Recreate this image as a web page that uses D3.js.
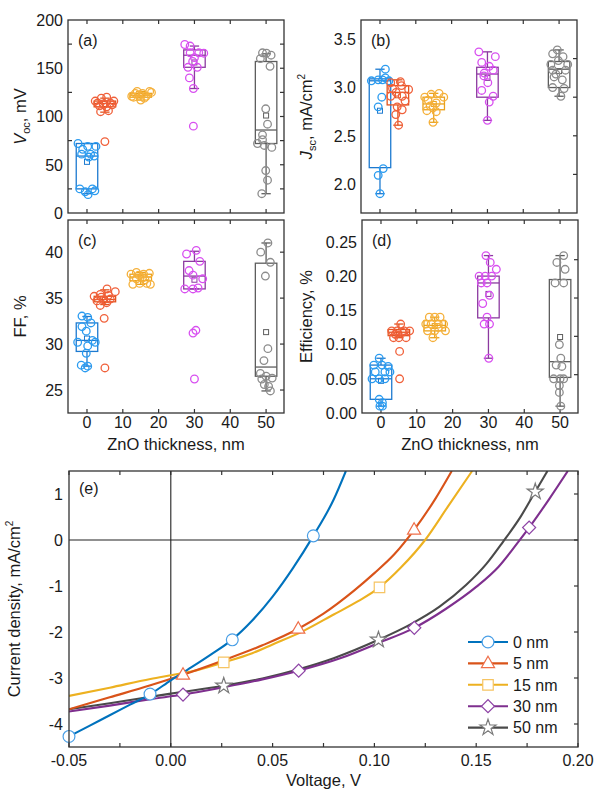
<!DOCTYPE html>
<html>
<head>
<meta charset="utf-8">
<script src="https://cdn.jsdelivr.net/npm/d3@7"></script>
<style>
body { margin: 0; background: #fff; }
text { font-family: "Liberation Sans", Arial, sans-serif; fill: #1a1a1a; }
</style>
</head>
<body>
<svg id="chart" width="595" height="789"></svg>
<script>
// ZnO thickness groups
const thickness = [0, 5, 15, 30, 50];

// box stats per group: [whiskerLow, q1, median, q3, whiskerHigh, mean]
const vocBox = [[20, 25, 59, 72, 72, 53], [104.5, 110, 113.5, 116, 119, 113], [117, 120, 122, 124, 126, 122], [129, 151, 163.5, 169, 173, 156], [20, 72, 86, 157, 165, 101]];
const jscBox = [[1.90, 2.17, 3.07, 3.09, 3.19, 2.76], [2.61, 2.82, 2.95, 3.02, 3.08, 2.92], [2.64, 2.77, 2.83, 2.90, 2.94, 2.83], [2.66, 2.90, 3.14, 3.21, 3.37, 3.10], [2.91, 3.00, 3.19, 3.27, 3.39, 3.17]];
const ffBox = [[27.6, 29.2, 30.4, 32.3, 33.0, 30.6], [34.3, 34.6, 34.85, 35.2, 35.9, 34.8], [36.5, 36.9, 37.3, 37.6, 37.8, 37.2], [36.0, 36.0, 37.4, 39.0, 40.1, 37.0], [24.9, 26.5, 27.5, 38.8, 41.0, 31.3]];
const effBox = [[0.01, 0.02, 0.05, 0.07, 0.08, 0.047], [0.11, 0.113, 0.118, 0.122, 0.13, 0.115], [0.11, 0.12, 0.128, 0.135, 0.14, 0.127], [0.08, 0.139, 0.19, 0.20, 0.23, 0.174], [0.01, 0.052, 0.075, 0.195, 0.23, 0.111]];

// individual devices: [thickness position, value]
const vocPts = [
  [[-2.5,72],[0.2,69],[2.5,69],[-1.2,66],[-1.5,61],[1,61],[0.5,58],[2,59],[-2,25],[1.5,25],[-0.5,22],[0.3,19],[2.2,23]],
  [[2.3,116],[4,119],[5.5,120],[7.5,116],[3.5,111],[5.5,110],[7,112],[3.8,105],[6,106],[4.5,113],[5,74],[6.5,114],[3,114]],
  [[12.5,121],[14,126],[15.5,124],[17.5,126],[13,120],[15,117],[16,119],[14.5,122],[13.5,124],[16.5,121],[18,125]],
  [[27.3,174.6],[28.8,173],[31.2,166],[32.6,165.6],[28.8,166],[30,161],[29.5,157],[28.2,151],[30.8,151],[28.6,140],[29.7,129],[29.7,90]],
  [[49,166],[50.1,165.6],[51.4,163.5],[48.4,160],[51.1,152],[49.9,108],[50.4,92],[49,81],[49,76],[47.6,72],[49.5,70],[51.6,68],[49.9,44],[50.4,34],[48.8,20]]
];
const jscPts = [
  [[-2.4,3.07],[-0.5,3.08],[1.5,3.19],[2.5,3.07],[0.7,3.08],[0.5,2.9],[-0.5,2.8],[0.9,2.16],[-0.5,2.09],[0,1.9],[1.5,3.1]],
  [[3,3.05],[5.7,3.06],[8,2.98],[3,2.91],[4.5,2.95],[6.2,2.91],[7,2.86],[4.8,2.8],[6.2,2.77],[4.4,2.72],[5.2,2.61],[3.5,2.99],[6,3.02]],
  [[12.5,2.9],[14.3,2.93],[16.5,2.94],[17.8,2.9],[13.4,2.87],[15.7,2.84],[14.8,2.79],[13.1,2.76],[15.7,2.75],[14.8,2.64],[14,2.81]],
  [[27.6,3.37],[32.2,3.32],[28.4,3.26],[30.5,3.22],[31.6,3.18],[29.1,3.15],[30.1,3.05],[28.4,2.97],[31.6,2.91],[30.5,2.85],[30,2.66],[29,3.12]],
  [[49.5,3.39],[48.2,3.35],[51.1,3.32],[47.7,3.24],[52.4,3.24],[48.2,3.18],[51.8,3.18],[49.1,3.14],[48.6,3.11],[50.9,3.08],[48.2,3.0],[51.4,2.99],[50.5,2.91],[49.8,3.28]]
];
const ffPts = [
  [[-1.4,33.05],[0.2,32.9],[1.1,32.3],[-1.4,31.9],[-0.2,31.4],[-2.6,30.2],[2.3,30.2],[0.2,29.8],[-0.2,29.0],[-1.6,27.7],[0.2,27.6],[-0.5,27.4],[1.5,30.4]],
  [[2,35.2],[3.7,35.4],[5.6,36.0],[7.9,35.7],[2.8,34.7],[4.6,34.8],[6.5,34.9],[3.7,34.2],[5.5,34.5],[4.8,32.8],[5,27.4],[4,35.1],[6,35.3]],
  [[12.3,37.6],[13.8,37.8],[15.8,37.6],[17.4,37.7],[12.8,36.5],[14.7,36.6],[16.7,36.6],[17.7,36.5],[13.8,37.1],[15.5,37.2],[14.5,37.5],[16.2,37.0]],
  [[30.5,40.2],[27.8,39.8],[31.5,39.0],[28.5,38.0],[29.6,37.5],[32.3,37.1],[27.3,36.0],[29.6,36.0],[31,36.1],[30.4,31.5],[29.6,31.2],[30,26.2]],
  [[50.5,41.0],[48.5,40.0],[51.2,38.9],[49.8,37.4],[50.5,29.5],[49.4,28.2],[48.4,26.8],[50,26.5],[51.7,26.3],[48.8,26.2],[50.7,25.4],[51.2,24.9],[49.5,25.6]]
];
const effPts = [
  [[-0.5,0.08],[-2,0.07],[0.3,0.07],[2,0.068],[-1.6,0.06],[1.1,0.06],[2.5,0.06],[-2.5,0.05],[-0.5,0.05],[1.1,0.05],[-0.5,0.02],[0.4,0.015],[-0.3,0.01],[0.4,0.01]],
  [[3,0.12],[4.5,0.12],[6.5,0.12],[8,0.12],[5.5,0.13],[3.5,0.11],[5,0.11],[7,0.11],[5.2,0.09],[5.2,0.05],[4,0.115],[6,0.118]],
  [[13.5,0.14],[15,0.14],[16.5,0.14],[12.5,0.13],[14,0.13],[16,0.13],[17.5,0.13],[13,0.12],[15,0.12],[18,0.12],[14.5,0.11],[16,0.125]],
  [[29.3,0.23],[30.5,0.22],[32.2,0.21],[27.4,0.20],[29.1,0.20],[30.9,0.20],[28,0.19],[29.6,0.19],[30.3,0.172],[28.4,0.16],[29.6,0.14],[30.3,0.13],[28.8,0.13],[30.1,0.08]],
  [[51,0.23],[49.1,0.22],[51.4,0.21],[48.6,0.19],[51,0.19],[49.8,0.10],[50.2,0.08],[48.9,0.07],[50.5,0.068],[48.2,0.05],[50,0.05],[51,0.05],[49.8,0.04],[49.8,0.03],[50.2,0.01]]
];

// J-V curves, [voltage V, current density mA/cm2]
const jv0 = [[-0.05,-4.27],[-0.04,-4.04],[-0.03,-3.81],[-0.02,-3.58],[-0.01,-3.35],[0,-3.05],[0.01,-2.77],[0.02,-2.48],[0.03,-2.17],[0.04,-1.75],[0.05,-1.23],[0.06,-0.61],[0.07,0.09],[0.08,0.88],[0.086,1.5]];
const jv5 = [[-0.05,-3.68],[-0.03,-3.42],[-0.01,-3.16],[0.006,-2.93],[0.025,-2.63],[0.045,-2.29],[0.0626,-1.93],[0.075,-1.6],[0.09,-1.1],[0.1,-0.72],[0.11,-0.3],[0.1195,0.22],[0.13,0.9],[0.138,1.5]];
const jv15 = [[-0.05,-3.39],[-0.03,-3.21],[-0.01,-3.02],[0,-2.94],[0.01,-2.86],[0.026,-2.66],[0.04,-2.46],[0.05,-2.27],[0.065,-1.98],[0.08,-1.62],[0.092,-1.33],[0.1025,-1.03],[0.113,-0.6],[0.1249,0],[0.136,0.72],[0.148,1.5]];
const jv30 = [[-0.05,-3.73],[-0.03,-3.6],[-0.01,-3.46],[0.006,-3.36],[0.026,-3.2],[0.045,-3.03],[0.0628,-2.84],[0.0839,-2.56],[0.1025,-2.23],[0.1196,-1.91],[0.135,-1.5],[0.15,-1.02],[0.161,-0.58],[0.1705,-0.05],[0.176,0.27],[0.186,0.9],[0.195,1.5]];
const jv50 = [[-0.05,-3.68],[-0.03,-3.55],[-0.01,-3.41],[0,-3.34],[0.026,-3.17],[0.045,-3.01],[0.0628,-2.81],[0.08,-2.57],[0.102,-2.17],[0.1175,-1.84],[0.132,-1.45],[0.145,-0.98],[0.155,-0.52],[0.163,-0.05],[0.172,0.52],[0.179,1.05],[0.185,1.5]];
const jvMarks = [
  [[-0.05,-4.27],[-0.0102,-3.35],[0.0302,-2.17],[0.07,0.09]],
  [[0.006,-2.93],[0.0626,-1.93],[0.1195,0.22]],
  [[0.026,-2.66],[0.1025,-1.03]],
  [[0.006,-3.36],[0.0628,-2.84],[0.1196,-1.91],[0.176,0.27]],
  [[0.026,-3.17],[0.102,-2.17],[0.179,1.05]]
];
const legendLabels = ["0 nm", "5 nm", "15 nm", "30 nm", "50 nm"];

const ptColor = ["#2a9bf0", "#f0603a", "#f5b03a", "#d84ff0", "#8c8c8c"];
const boxColor = ["#1d7ad0", "#e2541f", "#eaa21c", "#8c3aa0", "#5e5e5e"];
const lineColor = ["#0072bd", "#d95319", "#edb120", "#7e2f8e", "#4a4a4a"];
const markColor = ["#4a9fe6", "#ef6f4a", "#f6c462", "#8e44a6", "#7a7a7a"];

const svg = d3.select("#chart");
const frameColor = "#333";

function frame(g, x0, y0, w, h) {
  g.append("rect").attr("x", x0).attr("y", y0).attr("width", w).attr("height", h)
    .attr("fill", "none").attr("stroke", frameColor).attr("stroke-width", 1.3);
}

function boxPanel(cfg) {
  const g = svg.append("g");
  const w = 216, h = 193;
  const x = d3.scaleLinear().domain([-5.3, 55]).range([cfg.left, cfg.left + w]);
  const y = d3.scaleLinear().domain(cfg.domain).range([cfg.top + h, cfg.top]);

  // inward ticks
  cfg.leftTicks.forEach(v => g.append("line").attr("x1", cfg.left).attr("x2", cfg.left + 4)
    .attr("y1", y(v)).attr("y2", y(v)).attr("stroke", frameColor).attr("stroke-width", 1.2));
  cfg.rightTicks.forEach(v => g.append("line").attr("x1", cfg.left + w - 4).attr("x2", cfg.left + w)
    .attr("y1", y(v)).attr("y2", y(v)).attr("stroke", frameColor).attr("stroke-width", 1.2));
  [0, 10, 20, 30, 40, 50].forEach(v => {
    g.append("line").attr("x1", x(v)).attr("x2", x(v)).attr("y1", cfg.top).attr("y2", cfg.top + 4)
      .attr("stroke", frameColor).attr("stroke-width", 1.2);
    g.append("line").attr("x1", x(v)).attr("x2", x(v)).attr("y1", cfg.top + h - 4).attr("y2", cfg.top + h)
      .attr("stroke", frameColor).attr("stroke-width", 1.2);
  });

  // tick labels
  g.selectAll(".yl").data(cfg.labels).join("text")
    .attr("x", cfg.left - 5).attr("y", d => y(d)).attr("dy", "0.36em")
    .attr("text-anchor", "end").attr("font-size", 16)
    .text(d => d3.format(cfg.fmt)(d));
  if (cfg.xLabels) {
    g.selectAll(".xl").data([0, 10, 20, 30, 40, 50]).join("text")
      .attr("x", d => x(d)).attr("y", cfg.top + h + 15).attr("text-anchor", "middle")
      .attr("font-size", 16).text(d => d);
    g.append("text").attr("x", cfg.left + w / 2).attr("y", cfg.top + h + 37)
      .attr("text-anchor", "middle").attr("font-size", 16.5).text("ZnO thickness, nm");
  }

  // boxes
  thickness.forEach((t, i) => {
    const [lo, q1, med, q3, hi, mean] = cfg.boxes[i];
    const c = boxColor[i];
    const bg = g.append("g").attr("stroke", c).attr("stroke-width", 1.3).attr("fill", "none");
    bg.append("line").attr("x1", x(t)).attr("x2", x(t)).attr("y1", y(hi)).attr("y2", y(q3));
    bg.append("line").attr("x1", x(t)).attr("x2", x(t)).attr("y1", y(q1)).attr("y2", y(lo));
    bg.append("line").attr("x1", x(t - 1.3)).attr("x2", x(t + 1.3)).attr("y1", y(hi)).attr("y2", y(hi));
    bg.append("line").attr("x1", x(t - 1.3)).attr("x2", x(t + 1.3)).attr("y1", y(lo)).attr("y2", y(lo));
    bg.append("rect").attr("x", x(t - 3)).attr("width", x(t + 3) - x(t - 3))
      .attr("y", y(q3)).attr("height", y(q1) - y(q3));
    bg.append("line").attr("x1", x(t - 3)).attr("x2", x(t + 3)).attr("y1", y(med)).attr("y2", y(med));
    bg.append("rect").attr("x", x(t) - 2.5).attr("y", y(mean) - 2.5).attr("width", 5).attr("height", 5)
      .attr("stroke-width", 1);

    g.append("g").selectAll("circle").data(cfg.points[i]).join("circle")
      .attr("cx", d => x(d[0])).attr("cy", d => y(d[1])).attr("r", 3.8)
      .attr("fill", "none").attr("stroke", ptColor[i]).attr("stroke-width", 1.3);
  });

  frame(g, cfg.left, cfg.top, w, h);
  g.append("text").attr("x", cfg.left + 10).attr("y", cfg.top + 26).attr("font-size", 16).text(cfg.tag);

  // y title
  const t = g.append("text").attr("transform", `translate(${cfg.titleX},${cfg.top + h / 2}) rotate(-90)`)
    .attr("text-anchor", "middle").attr("font-size", 16.5);
  cfg.title(t);
}

boxPanel({
  left: 68, top: 20, domain: [0, 200], boxes: vocBox, points: vocPts, tag: "(a)",
  labels: [0, 50, 100, 150, 200], fmt: "d",
  leftTicks: [25, 75, 125, 175], rightTicks: [25, 50, 75, 100, 125, 150, 175],
  titleX: 26,
  title: t => {
    t.append("tspan").attr("font-style", "italic").text("V");
    t.append("tspan").attr("font-size", 11).attr("dy", 4).text("oc");
    t.append("tspan").attr("dy", -4).text(", mV");
  }
});
boxPanel({
  left: 361, top: 20, domain: [1.7, 3.7], boxes: jscBox, points: jscPts, tag: "(b)",
  labels: [2.0, 2.5, 3.0, 3.5], fmt: ".1f",
  leftTicks: [], rightTicks: [2.1, 2.5, 2.9, 3.3],
  titleX: 312,
  title: t => {
    t.append("tspan").attr("font-style", "italic").text("J");
    t.append("tspan").attr("font-size", 11).attr("dy", 4).text("sc");
    t.append("tspan").attr("dy", -4).text(", mA/cm");
    t.append("tspan").attr("font-size", 10).attr("dy", -7).text("2");
  }
});
boxPanel({
  left: 68, top: 220, domain: [22.5, 43.5], boxes: ffBox, points: ffPts, tag: "(c)",
  labels: [25, 30, 35, 40], fmt: "d", xLabels: true,
  leftTicks: [], rightTicks: [25, 30, 35, 40],
  titleX: 26,
  title: t => t.text("FF, %")
});
boxPanel({
  left: 362, top: 220, domain: [0, 0.282], boxes: effBox, points: effPts, tag: "(d)",
  labels: [0, 0.05, 0.10, 0.15, 0.20, 0.25], fmt: ".2f", xLabels: true,
  leftTicks: [], rightTicks: [0.056, 0.112, 0.168, 0.224],
  titleX: 312,
  title: t => t.text("Efficiency, %")
});

// ---- panel (e): J-V curves ----
const eL = 69, eT = 471, eW = 509, eH = 276;
const xe = d3.scaleLinear().domain([-0.05, 0.2]).range([eL, eL + eW]);
const ye = d3.scaleLinear().domain([-4.5, 1.5]).range([eT + eH, eT]);
const ge = svg.append("g");

ge.append("clipPath").attr("id", "clipE").append("rect")
  .attr("x", eL).attr("y", eT).attr("width", eW).attr("height", eH);

const xTicksE = d3.range(-0.05, 0.2001, 0.025);
xTicksE.forEach(v => {
  ge.append("line").attr("x1", xe(v)).attr("x2", xe(v)).attr("y1", eT).attr("y2", eT + 4)
    .attr("stroke", frameColor).attr("stroke-width", 1.2);
  ge.append("line").attr("x1", xe(v)).attr("x2", xe(v)).attr("y1", eT + eH - 4).attr("y2", eT + eH)
    .attr("stroke", frameColor).attr("stroke-width", 1.2);
});
[-4, -3, -2, -1, 0, 1].forEach(v => {
  ge.append("line").attr("x1", eL + eW - 4).attr("x2", eL + eW).attr("y1", ye(v)).attr("y2", ye(v))
    .attr("stroke", frameColor).attr("stroke-width", 1.2);
});

ge.selectAll(".xle").data([-0.05, 0, 0.05, 0.10, 0.15, 0.20]).join("text")
  .attr("x", d => xe(d)).attr("y", eT + eH + 19).attr("text-anchor", "middle").attr("font-size", 16)
  .text(d => d3.format(".2f")(d).replace("−", "-"));
ge.selectAll(".yle").data([-4, -3, -2, -1, 0, 1]).join("text")
  .attr("x", eL - 6).attr("y", d => ye(d)).attr("dy", "0.36em").attr("text-anchor", "end")
  .attr("font-size", 16).text(d => d);

// zero lines
ge.append("line").attr("x1", eL).attr("x2", eL + eW).attr("y1", ye(0)).attr("y2", ye(0))
  .attr("stroke", "#222").attr("stroke-width", 1.1);
ge.append("line").attr("x1", xe(0)).attr("x2", xe(0)).attr("y1", eT).attr("y2", eT + eH)
  .attr("stroke", "#222").attr("stroke-width", 1.1);

const curves = [jv0, jv5, jv15, jv30, jv50];
const line = d3.line().x(d => xe(d[0])).y(d => ye(d[1])).curve(d3.curveMonotoneX);
const cg = ge.append("g").attr("clip-path", "url(#clipE)");
[4, 3, 2, 1, 0].forEach(i => {
  cg.append("path").datum(curves[i]).attr("d", line).attr("fill", "none")
    .attr("stroke", lineColor[i]).attr("stroke-width", 2.1);
});

const symbols = [d3.symbolCircle, d3.symbolTriangle, d3.symbolSquare, d3.symbolSquare, d3.symbolStar];
const symSize = [110, 75, 110, 85, 80];
function marker(g, i, cx, cy) {
  const sym = d3.symbol().type(symbols[i]).size(symSize[i]);
  const p = g.append("path").attr("d", sym()).attr("fill", "#fff")
    .attr("stroke", markColor[i]).attr("stroke-width", 1.2);
  if (i === 3) p.attr("transform", `translate(${cx},${cy}) rotate(45)`);
  else if (i === 1) p.attr("transform", `translate(${cx},${cy + 0.5})`);
  else p.attr("transform", `translate(${cx},${cy})`);
}
jvMarks.forEach((pts, i) => pts.forEach(d => marker(ge, i, xe(d[0]), ye(d[1]))));

frame(ge, eL, eT, eW, eH);
ge.append("text").attr("x", eL + 10).attr("y", eT + 23).attr("font-size", 16).text("(e)");

// legend
const lg = ge.append("g");
legendLabels.forEach((lab, i) => {
  const yy = 642 + i * 21.4;
  lg.append("line").attr("x1", 468).attr("x2", 508).attr("y1", yy).attr("y2", yy)
    .attr("stroke", lineColor[i]).attr("stroke-width", 2.1);
  marker(lg, i, 488, yy);
  lg.append("text").attr("x", 513).attr("y", yy).attr("dy", "0.36em").attr("font-size", 16).text(lab);
});

// axis titles
const yt = ge.append("text").attr("transform", `translate(20,${eT + eH / 2}) rotate(-90)`)
  .attr("text-anchor", "middle").attr("font-size", 16.5);
yt.append("tspan").text("Current density, mA/cm");
yt.append("tspan").attr("font-size", 10).attr("dy", -7).text("2");
ge.append("text").attr("x", eL + eW / 2).attr("y", 786).attr("text-anchor", "middle")
  .attr("font-size", 16.5).text("Voltage, V");
</script>
</body>
</html>
